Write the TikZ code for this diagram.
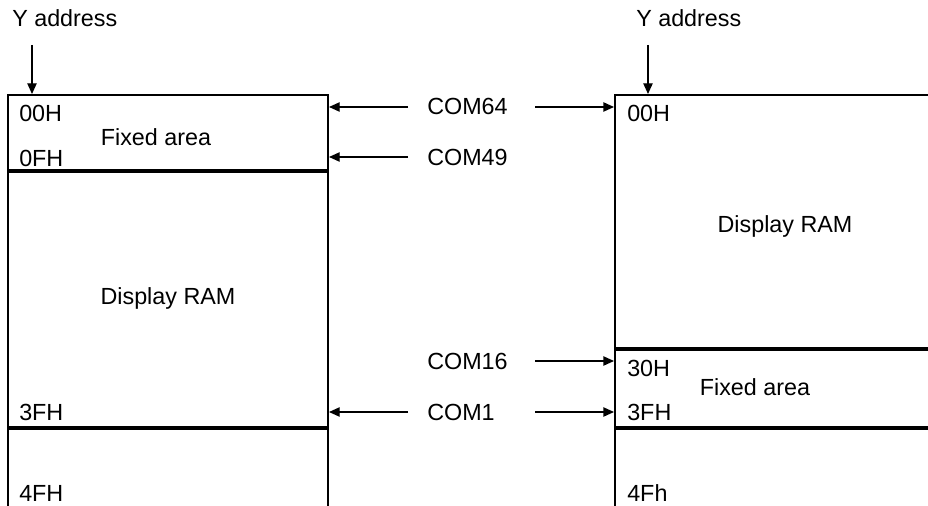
\documentclass[tikz,border=0pt]{standalone}
\usepackage{fontspec}
\setmainfont{Liberation Sans}
\usetikzlibrary{arrows.meta}

\begin{document}
\begin{tikzpicture}[x=0.75pt, y=-0.75pt, line cap=butt, line join=miter,
	lbl/.style={inner sep=0pt, font=\fontsize{17.5}{20}\selectfont},
	wall/.style={line width=1.6pt},
	sep/.style={line width=3pt},
	ptr/.style={line width=1pt, -{Triangle[length=8pt, width=7pt]}}]
	\useasboundingbox (0,0) rectangle (928,506);

	% Левая карта памяти
	\draw[wall] (8,506) -- (8,95) -- (328,95) -- (328,506);
	\draw[sep] (8,171) -- (328,171);
	\draw[sep] (8,428) -- (328,428);

	% Правая карта памяти
	\draw[wall] (615,506) -- (615,95) -- (928,95);
	\draw[sep] (615,349) -- (928,349);
	\draw[sep] (615,428) -- (928,428);

	% Y address
	\node[lbl, anchor=west] (yl) at (12,18) {Y address};
	\node[lbl, anchor=west] (yr) at (636,18) {Y address};
	\draw[ptr] (32,45) -- (32,94);
	\draw[ptr] (648,45) -- (648,94);

	% Адреса
	\foreach \y/\lab/\nm in {113/00H/la, 158/0FH/lb, 412/3FH/lc, 493/4FH/ld} {
		\node[lbl, anchor=west] (\nm) at (19,\y) {\lab};
	}
	\foreach \y/\lab/\nm in {113/00H/ra, 368/30H/rb, 412/3FH/rc, 493/4Fh/rd} {
		\node[lbl, anchor=west] (\nm) at (627,\y) {\lab};
	}

	% Области
	\node[lbl] (fixl) at (156,137) {Fixed area};
	\node[lbl] (raml) at (168,298) {Display RAM};
	\node[lbl] (ramr) at (785,226) {Display RAM};
	\node[lbl] (fixr) at (755,387) {Fixed area};

	% Выводы COM
	\node[lbl, anchor=west] (com64) at (427,106) {COM64};
	\node[lbl, anchor=west] (com49) at (427,157) {COM49};
	\node[lbl, anchor=west] (com16) at (427,361) {COM16};
	\node[lbl, anchor=west] (com1) at (427,412) {COM1};

	\coordinate (l64) at (329,107);
	\coordinate (l49) at (329,157);
	\coordinate (l1) at (329,412);
	\coordinate (r64) at (614,107);
	\coordinate (r16) at (614,361);
	\coordinate (r1) at (614,412);

	\draw[ptr] (408,107) -- (l64);
	\draw[ptr] (408,157) -- (l49);
	\draw[ptr] (408,412) -- (l1);
	\draw[ptr] (535,107) -- (r64);
	\draw[ptr] (535,361) -- (r16);
	\draw[ptr] (535,412) -- (r1);
\end{tikzpicture}
\end{document}
